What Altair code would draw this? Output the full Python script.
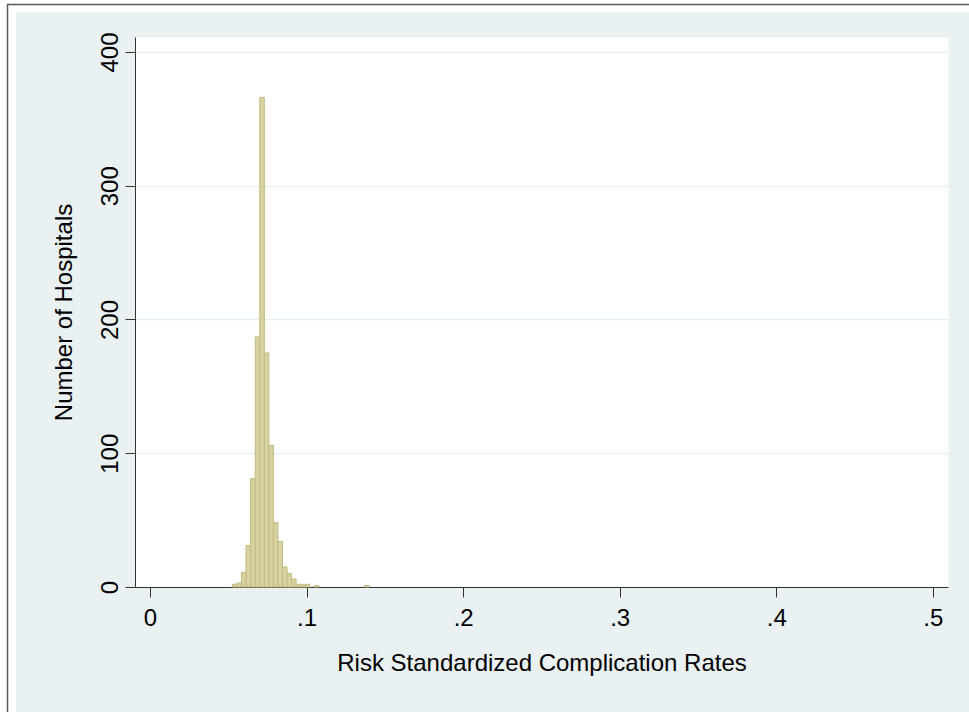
import altair as alt
import pandas as pd

# Histogram bins (left / right edges) and hospital counts
bin_lo = [0.0526, 0.0555, 0.0584, 0.0613, 0.0642, 0.0672, 0.0701, 0.0730, 0.0759, 0.0788,
          0.0817, 0.0846, 0.0875, 0.0904, 0.0933, 0.0963, 0.0992, 0.1021, 0.1050, 0.1079,
          0.1108, 0.1137, 0.1166, 0.1195, 0.1224, 0.1254, 0.1283, 0.1312, 0.1341, 0.1370]
bin_hi = [0.0555, 0.0584, 0.0613, 0.0642, 0.0672, 0.0701, 0.0730, 0.0759, 0.0788, 0.0817,
          0.0846, 0.0875, 0.0904, 0.0933, 0.0963, 0.0992, 0.1021, 0.1050, 0.1079, 0.1108,
          0.1137, 0.1166, 0.1195, 0.1224, 0.1254, 0.1283, 0.1312, 0.1341, 0.1370, 0.1400]
counts = [2, 3, 11, 31, 81, 187, 366, 175, 106, 48,
          34, 15, 10, 6, 2, 2, 2, 0, 1, 0,
          0, 0, 0, 0, 0, 0, 0, 0, 0, 1]

x_ticks = [0, 0.1, 0.2, 0.3, 0.4, 0.5]
y_ticks = [0, 100, 200, 300, 400]

x_title = "Risk Standardized Complication Rates"
y_title = "Number of Hospitals"

df = pd.DataFrame({"lo": bin_lo, "hi": bin_hi, "n": counts})
df = df[df["n"] > 0]

FONT = "Liberation Sans, Arial, sans-serif"
FS = 24
AXIS_COL = "#333333"
BG = "#e9f1f3"

W, H = 813, 550
PL, PT = 135, 37

one = alt.Data(values=[{}])

left_strip = alt.Chart(one).mark_rect(color="white").encode(
    x=alt.value(-PL), x2=alt.value(16 - PL), y=alt.value(-PT), y2=alt.value(712 - PT)
)
top_strip = alt.Chart(one).mark_rect(color="white").encode(
    x=alt.value(-PL), x2=alt.value(969 - PL), y=alt.value(-PT), y2=alt.value(12 - PT)
)
left_border = alt.Chart(one).mark_rule(color="#5a5a5a", strokeWidth=1.5).encode(
    x=alt.value(7.5 - PL), y=alt.value(4 - PT), y2=alt.value(712 - PT)
)
top_border = alt.Chart(one).mark_rule(color="#5a5a5a", strokeWidth=1.5).encode(
    x=alt.value(7 - PL), x2=alt.value(969 - PL), y=alt.value(4.5 - PT)
)

bars = alt.Chart(df).mark_rect(
    fill="#d8d2a0", stroke="#c2ba82", strokeWidth=1
).encode(
    x=alt.X(
        "lo:Q",
        scale=alt.Scale(domain=[-0.0096, 0.5097], nice=False, zero=False),
        axis=alt.Axis(
            values=x_ticks,
            title=x_title,
            labelExpr="datum.value == 0 ? '0' : '.' + format(datum.value * 10, 'd')",
            grid=False,
            tickSize=10,
            labelPadding=9,
            titlePadding=21,
        ),
    ),
    x2="hi:Q",
    y=alt.Y(
        "n:Q",
        scale=alt.Scale(domain=[0, 411.2], nice=False),
        axis=alt.Axis(
            values=y_ticks,
            title=y_title,
            grid=True,
            gridColor="#e6eff1",
            gridWidth=1.5,
            labelAngle=270,
            labelAlign="center",
            labelBaseline="alphabetic",
            tickSize=10,
            labelPadding=8,
            titlePadding=22,
        ),
    ),
    y2=alt.datum(0),
)

chart = alt.layer(left_strip, top_strip, left_border, top_border, bars).properties(
    width=W,
    height=H,
    autosize=alt.AutoSizeParams(type="none"),
    padding={"left": PL, "top": PT, "right": 969 - PL - W, "bottom": 712 - PT - H},
    background=BG,
).configure_view(
    fill="white", strokeOpacity=0
).configure_axis(
    domainColor=AXIS_COL,
    domainWidth=1,
    tickColor=AXIS_COL,
    tickWidth=1,
    labelFont=FONT,
    labelFontSize=FS,
    labelColor="black",
    titleFont=FONT,
    titleFontSize=FS,
    titleFontWeight="normal",
    titleColor="black",
)

chart.save("out.html", embed_options={"renderer": "svg", "actions": False})
